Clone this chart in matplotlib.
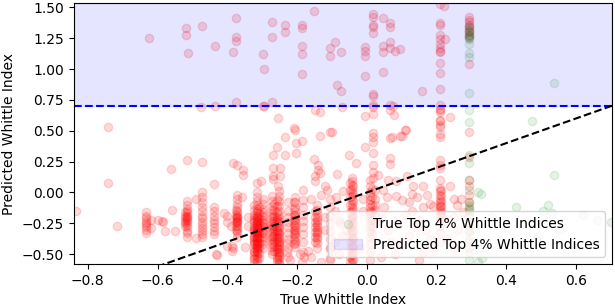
import matplotlib
matplotlib.use('Agg')
import matplotlib.pyplot as plt

THRESHOLD = 0.70
X_RANGE = (-0.84, 0.703)
Y_RANGE = (-0.58, 1.535)

# arms that share one true index -> vertical streaks of predictions
streak_x = [-0.633, -0.516, -0.473, -0.438, -0.372, -0.316, -0.297, -0.273,
            -0.251, -0.225, -0.206, -0.182, -0.144, -0.106, -0.043, 0.010,
            0.018, 0.023, 0.210, 0.294,
            -0.520, -0.375, -0.322, -0.308, -0.266, -0.256, -0.210, -0.147,
            -0.047, -0.040, 0.014, 0.212]
streak_y = [
    [-0.16, -0.19, -0.21, -0.23, -0.25, -0.26, -0.28, -0.30, -0.33],
    [-0.07, -0.10, -0.13, -0.15, -0.17, -0.19, -0.20, -0.21, -0.22, -0.24, -0.26, -0.28, -0.31, -0.33, -0.36],
    [0.00, -0.04, -0.08, -0.12, -0.15, -0.19, -0.21, -0.24, -0.26, -0.29, -0.31, -0.34, -0.36],
    [0.07, -0.12, -0.15, -0.19, -0.22, -0.25, -0.28, -0.31, -0.34],
    [-0.02, -0.05, -0.09, -0.12, -0.15, -0.17, -0.19, -0.20, -0.21, -0.22, -0.23, -0.24, -0.25, -0.27,
     -0.29, -0.31, -0.33, -0.36],
    [0.00, -0.04, -0.07, -0.10, -0.13, -0.15, -0.17, -0.19, -0.20, -0.21, -0.22, -0.23, -0.24, -0.25,
     -0.26, -0.27, -0.28, -0.29, -0.30, -0.31, -0.32, -0.33, -0.34, -0.35, -0.36, -0.37, -0.38, -0.39,
     -0.40, -0.41, -0.42, -0.43, -0.44, -0.45, -0.46, -0.47, -0.48, -0.50, -0.52, -0.54, -0.56],
    [-0.05, -0.09, -0.13, -0.16, -0.18, -0.20, -0.22, -0.24, -0.25, -0.27, -0.28, -0.30, -0.32, -0.33,
     -0.35, -0.37, -0.39, -0.42, -0.45],
    [-0.03, -0.07, -0.11, -0.14, -0.17, -0.19, -0.21, -0.23, -0.25, -0.26, -0.28, -0.29, -0.31, -0.33,
     -0.35, -0.36, -0.38, -0.40, -0.42, -0.44, -0.47, -0.50],
    [0.01, -0.03, -0.07, -0.11, -0.15, -0.18, -0.21, -0.23, -0.25, -0.27, -0.29, -0.31, -0.33, -0.34,
     -0.36, -0.37, -0.39, -0.40, -0.42, -0.43, -0.45, -0.46, -0.48, -0.49, -0.51, -0.52, -0.54, -0.56, -0.58],
    [-0.08, -0.15, -0.20, -0.24, -0.28, -0.33, -0.38, -0.45, -0.52],
    [-0.04, -0.08, -0.12, -0.15, -0.18, -0.20, -0.22, -0.24, -0.26, -0.28, -0.30, -0.32, -0.34, -0.36,
     -0.39, -0.41, -0.44],
    [-0.06, -0.12, -0.18, -0.23, -0.28, -0.34, -0.40, -0.48],
    [-0.10, -0.14, -0.17, -0.20, -0.22, -0.24, -0.26, -0.28, -0.30, -0.32, -0.34, -0.36, -0.38, -0.41, -0.45],
    [-0.05, -0.12, -0.19, -0.25, -0.31, -0.38, -0.46, -0.53],
    [0.12, 0.09, 0.06, 0.03, 0.00, -0.03, -0.06, -0.09, -0.12, -0.15, -0.18, -0.21, -0.24, -0.27, -0.30,
     -0.33, -0.36, -0.39, -0.42, -0.45, -0.48, -0.51, -0.54, -0.57, -0.20, -0.26, -0.32, -0.38, -0.44, -0.50],
    [0.10, 0.05, 0.00, -0.03, -0.06, -0.09, -0.12, -0.15, -0.17, -0.20, -0.23, -0.27, -0.31, -0.36,
     -0.42, -0.48, -0.55],
    [1.45, 1.42, 1.36, 1.34, 1.29, 0.80, 0.78, 0.71, 0.69, 0.64, 0.48, 0.45, 0.41, 0.32, 0.22, 0.17, 0.12],
    [0.02, -0.05, -0.10, -0.14, -0.19, -0.25],
    [1.53, 1.37, 1.36, 1.28, 1.24, 1.20, 1.17, 1.15, 1.14, 1.05, 0.97, 0.84, 0.71, 0.68, 0.67, 0.65,
     0.59, 0.58, 0.55, 0.53, 0.47, 0.45, 0.26, 0.22, 0.20, 0.10, 0.04, 0.01, -0.02, -0.05, -0.08,
     -0.10, -0.12, -0.15, -0.18, -0.22, -0.27, -0.33, -0.40],
    [1.42, 1.40, 1.38, 1.36, 1.34, 1.32, 1.30, 1.28, 1.26, 1.04, 0.49, 0.29, 0.10, 0.05, -0.02, -0.08,
     -0.13, -0.18, -0.24, -0.30, -0.38, -0.45],
    # extra arms overlapping the dense streaks
    [-0.16, -0.19, -0.21, -0.23, -0.25, -0.27],
    [-0.14, -0.18, -0.21, -0.24, -0.27, -0.30],
    [-0.10, -0.14, -0.18, -0.21, -0.24, -0.27, -0.30, -0.33, -0.36, -0.39, -0.42, -0.45, -0.48, -0.51,
     -0.54, -0.57, -0.29, -0.35, -0.41, -0.47, -0.53, -0.22, -0.31, -0.38],
    [-0.12, -0.17, -0.21, -0.25, -0.29, -0.33, -0.37, -0.41, -0.45, -0.49, -0.53],
    [-0.09, -0.14, -0.19, -0.23, -0.27, -0.31, -0.35, -0.39, -0.43, -0.47],
    [-0.06, -0.11, -0.16, -0.20, -0.24, -0.28, -0.32, -0.36, -0.40, -0.44, -0.48, -0.52, -0.56, -0.30,
     -0.38, -0.46, -0.54, -0.22],
    [-0.08, -0.13, -0.18, -0.22, -0.26, -0.30, -0.34, -0.38, -0.42],
    [-0.15, -0.20, -0.24, -0.28, -0.32, -0.36, -0.40],
    [0.08, 0.02, -0.04, -0.10, -0.16, -0.22, -0.28, -0.34, -0.40, -0.46, -0.52, -0.56],
    [0.05, -0.01, -0.07, -0.13, -0.19, -0.25, -0.31, -0.37, -0.43, -0.49, -0.55],
    [0.03, -0.04, -0.10, -0.16, -0.22, -0.28, -0.34],
    [0.02, -0.03, -0.07, -0.11, -0.14, -0.17, -0.20],
]

# single arms scattered around the streaks
loose_x = [-0.624, -0.518, -0.518, -0.472, -0.512, -0.435, -0.374, -0.374, -0.374, -0.383,
           -0.271, -0.271, -0.297, -0.294, -0.235, -0.235, -0.185, -0.185, -0.185, -0.185,
           -0.185, -0.151, -0.091, -0.106, -0.106, -0.074, -0.085, -0.075, -0.005, -0.005,
           -0.005, -0.005, 0.047, 0.047, 0.047, 0.047, 0.066, 0.066, 0.066, 0.066,
           0.081, 0.095, 0.157, 0.224, 0.221, -0.374, -0.271, -0.297,
           -0.435, -0.476, -0.294, -0.742, -0.254, -0.209, -0.205, -0.149, -0.134, -0.100,
           -0.072, -0.005, 0.066, 0.075, 0.066, 0.078, 0.239, 0.109, 0.095, 0.066,
           -0.134, -0.106, -0.005, -0.233, -0.204, -0.185, -0.258, -0.270, -0.233, -0.204,
           -0.383, -0.373, -0.270, -0.249, -0.270, -0.270, -0.249, -0.316, -0.302, -0.254,
           -0.151, -0.140, -0.140, -0.135, -0.149, -0.149, -0.085, -0.115, -0.182, 0.066,
           0.066, 0.112, 0.033, 0.062, 0.085, 0.114, 0.133, -0.068, -0.354, -0.354,
           -0.359, 0.071, 0.100,
           -0.834, -0.742, -0.716, -0.560, -0.514, -0.472, -0.550, -0.431, -0.579, -0.584,
           -0.557, -0.600, -0.587, -0.620, -0.620, -0.490, -0.490, -0.410, -0.400, -0.390,
           -0.400, -0.340, -0.340, -0.430, -0.383, -0.400, -0.385, -0.385, -0.350,
           -0.230, -0.220, -0.187, -0.168, -0.106, -0.106, -0.092, -0.077, -0.087, -0.010,
           -0.010, 0.047, 0.057, 0.085, 0.100, 0.120, 0.143, 0.130, 0.162, 0.172,
           0.180, 0.190, 0.240, 0.250, 0.260, 0.275, 0.250, 0.040, 0.060, 0.090,
           0.120, 0.150, 0.170, 0.190, 0.230, 0.260, 0.080, 0.150, -0.060, -0.080,
           -0.160, -0.130, -0.120, -0.050, -0.030,
           -0.120, -0.090, -0.070, -0.160, -0.190, -0.230, -0.130, -0.080, 0.050, 0.070,
           0.110, 0.140, 0.160, 0.180, 0.230, 0.250, 0.270, 0.100, 0.130, 0.160,
           -0.020, 0.040, -0.180, -0.120]
loose_y = [1.25, 1.33, 1.28, 1.35, 1.13, 1.19, 1.41, 1.26, 1.23, 1.14,
           1.38, 1.26, 1.12, 1.00, 1.36, 1.30, 1.36, 1.33, 1.19, 1.12,
           0.96, 1.47, 1.22, 1.17, 1.11, 1.14, 0.87, 0.82, 1.18, 1.15,
           1.11, 0.94, 1.41, 1.19, 1.14, 0.98, 1.37, 1.34, 1.22, 1.17,
           1.15, 1.16, 0.82, 1.24, 1.51, 0.73, 0.73, 0.70,
           0.70, 0.69, 0.70, 0.53, 0.60, 0.52, 0.51, 0.67, 0.65, 0.49,
           0.69, 0.62, 0.71, 0.70, 0.67, 0.63, 0.61, 0.51, 0.46, 0.44,
           0.46, 0.49, 0.37, 0.45, 0.40, 0.42, 0.37, 0.30, 0.30, 0.32,
           0.24, 0.22, 0.20, 0.20, 0.13, 0.11, 0.13, 0.08, 0.09, 0.05,
           0.27, 0.22, 0.18, 0.16, 0.13, 0.09, 0.15, 0.02, 0.02, 0.28,
           0.23, 0.51, 0.14, 0.10, 0.09, 0.13, 0.05, 0.01, 0.18, 0.14,
           -0.04, 0.45, 0.46,
           -0.15, 0.08, -0.27, 0.19, 0.26, 0.25, -0.31, -0.50, -0.31, -0.24,
           -0.14, -0.22, -0.23, -0.22, -0.29, -0.05, -0.37, -0.17, -0.19, -0.27,
           -0.24, -0.20, -0.27, -0.51, -0.45, -0.43, -0.43, -0.47, -0.44,
           -0.41, -0.55, -0.56, -0.47, -0.44, -0.55, -0.40, -0.25, -0.04, -0.05,
           -0.15, 0.02, -0.04, -0.03, -0.06, -0.08, -0.04, -0.01, 0.05, -0.02,
           -0.09, -0.11, 0.05, -0.05, -0.10, -0.16, -0.20, -0.20, -0.30, -0.25,
           -0.35, -0.22, -0.30, -0.45, -0.38, -0.30, -0.50, -0.55, -0.30, -0.50,
           -0.05, -0.02, 0.05, 0.30, 0.24,
           -0.20, -0.15, -0.35, -0.52, -0.50, -0.48, -0.56, -0.22, -0.12, -0.40,
           -0.18, -0.28, -0.12, -0.38, -0.25, -0.45, -0.05, -0.42, -0.15, -0.48,
           -0.45, -0.52, -0.52, -0.30]

# arms whose true index is in the top 4%
top_x = [0.294] * 28 + [0.537, 0.474, 0.537, 0.328, 0.428, 0.520, 0.505, 0.530, 0.620, 0.700,
                        0.660, 0.490, 0.330, 0.330, 0.310, 0.360, 0.400, 0.450, 0.550, 0.600,
                        0.320, 0.319]
top_y = [1.35, 1.33, 1.31, 1.30, 1.28, 1.27, 1.25, 1.24, 1.20, 1.13, 1.10, 0.81, 0.67, 0.57,
         0.30, 0.24, 0.10, 0.02, -0.08, -0.10, -0.12, -0.15, -0.20, -0.26, -0.32, -0.40, -0.48, -0.55,
         0.89, 0.58, 0.14, -0.01, -0.12, -0.10, -0.15, -0.17, -0.18, -0.24,
         -0.22, -0.35, -0.53, -0.45, -0.30, -0.20, -0.30, -0.42, -0.30, -0.45,
         -0.56, 0.00]

true_idx = []
pred_idx = []
for x, ys in zip(streak_x, streak_y):
    true_idx += [x] * len(ys)
    pred_idx += ys
true_idx += loose_x
pred_idx += loose_y

fig, ax = plt.subplots(figsize=(6.15, 3.06), dpi=100)
ax.scatter(true_idx, pred_idx, color='red', alpha=0.15)
ax.scatter(top_x, top_y, color='green', alpha=0.1, label='True Top 4% Whittle Indices')
ax.axhspan(THRESHOLD, Y_RANGE[1], color='blue', alpha=0.1, label='Predicted Top 4% Whittle Indices')
ax.axhline(THRESHOLD, color='blue', linestyle='--')
ax.plot(X_RANGE, X_RANGE, 'k--')

ax.set_xlim(X_RANGE)
ax.set_ylim(Y_RANGE)
ax.set_xlabel('True Whittle Index')
ax.set_ylabel('Predicted Whittle Index')
ax.legend(loc='lower right')

fig.subplots_adjust(left=0.120, right=0.995, top=0.990, bottom=0.137)
fig.savefig('out.png')
